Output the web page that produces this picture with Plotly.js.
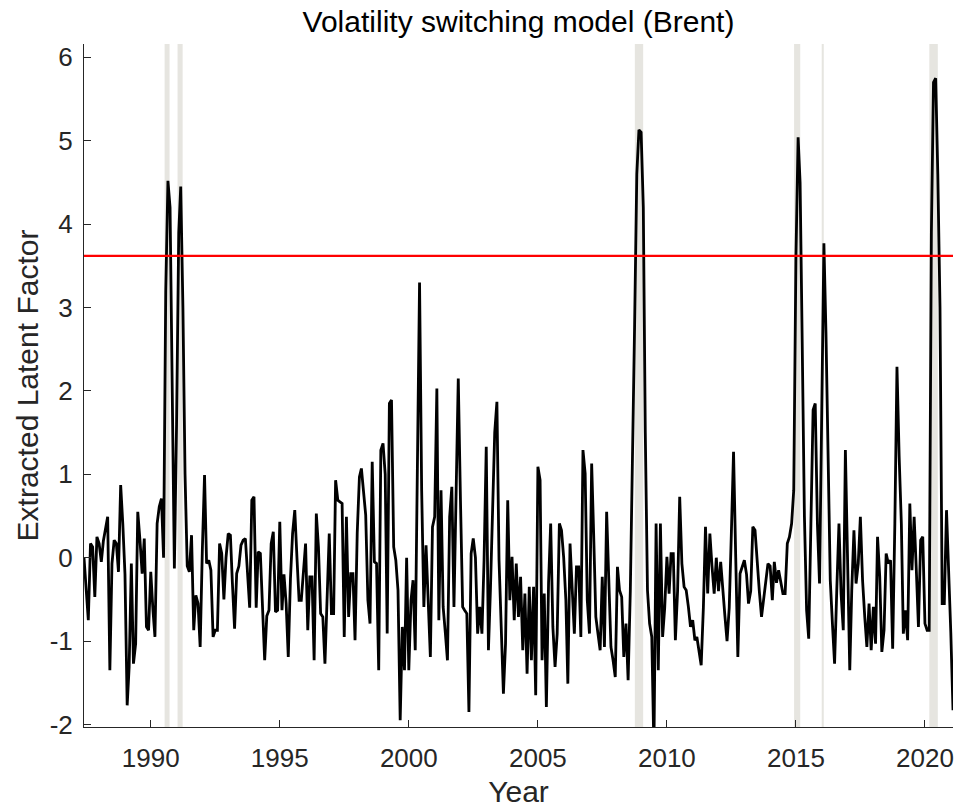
<!DOCTYPE html>
<html>
<head>
<meta charset="utf-8">
<script src="https://cdn.plot.ly/plotly-3.0.1.min.js"></script>
<style>
  html, body { margin: 0; padding: 0; background: #ffffff; }
  #chart { width: 958px; height: 808px; }
</style>
</head>
<body>
<div id="chart"></div>
<script>
// ---------------- data ----------------
const startYear = 1987;
const startMonth = 6; // first observation: June 1987, monthly thereafter

const latentFactor = [
  0.00, -0.40, -0.75, 0.17, 0.13, -0.47, 0.25, 0.17, -0.05, 0.20,
  0.37, 0.49, -1.35, -0.07, 0.21, 0.17, -0.17, 0.87, 0.41, -0.20,
  -1.77, -1.31, -0.07, -1.27, -1.03, 0.55, 0.21, -0.19, 0.23, -0.83,
  -0.87, -0.17, -0.63, -0.95, 0.41, 0.61, 0.71, 0.00, 3.20, 4.52,
  4.20, 1.80, -0.13, 1.60, 3.90, 4.45, 3.00, 1.00, -0.10, -0.17,
  0.27, -0.87, -0.45, -0.55, -1.07, 0.10, 0.99, -0.07, -0.03, -0.15,
  -0.95, -0.87, -0.87, 0.17, 0.05, -0.50, 0.00, 0.29, 0.27, -0.30,
  -0.85, -0.19, -0.10, 0.15, 0.21, 0.23, -0.19, -0.60, 0.69, 0.73,
  -0.60, 0.07, 0.05, -0.50, -1.23, -0.70, -0.63, 0.17, 0.31, -0.65,
  -0.63, 0.43, -0.63, -0.20, -0.55, -1.19, -0.25, 0.29, 0.57, 0.00,
  -0.51, -0.51, -0.19, 0.17, -0.87, -0.23, -0.23, -1.23, 0.53, 0.13,
  -0.67, -0.71, -1.27, -0.40, 0.29, -0.67, -0.67, 0.93, 0.69, 0.67,
  0.65, -0.95, 0.49, -0.71, -0.19, -0.19, -0.99, 0.30, 0.97, 1.07,
  0.81, 0.51, -0.51, -0.79, 1.15, -0.05, -0.07, -1.35, 1.29, 1.37,
  1.00, -0.91, 1.85, 1.89, 0.13, -0.03, -0.39, -1.95, -0.83, -1.35,
  0.00, -1.35, -0.51, -0.27, -1.11, 0.90, 3.30, 0.80, -0.59, 0.15,
  -0.63, -1.19, 0.37, 0.49, 2.03, -0.75, 0.81, -0.59, -0.90, -1.23,
  0.49, 0.85, -0.59, 0.90, 2.15, 0.69, -0.59, -0.63, -0.67, -1.85,
  0.05, 0.23, 0.00, -0.91, -0.59, -0.91, -0.03, 1.33, -1.11, -0.39,
  0.53, 1.50, 1.87, -0.03, -0.83, -1.63, -1.03, 0.69, -0.51, 0.01,
  -0.75, -0.07, -0.71, -0.23, -1.11, -0.43, -1.39, -0.35, -1.23, -0.35,
  -1.65, 1.09, 0.93, -1.23, -0.43, -1.79, -0.30, 0.41, -0.83, -1.31,
  -0.91, 0.41, 0.33, 0.00, -0.51, -1.51, 0.17, -0.39, -0.91, -0.11,
  -0.11, -0.95, 1.29, 1.01, -0.51, -0.91, 1.13, 0.29, -0.71, -0.91,
  -1.11, -0.23, -1.07, 0.55, -0.19, -1.07, -1.23, -1.43, -0.11, -0.39,
  -0.47, -1.19, -0.79, -1.47, -0.40, 1.00, 2.80, 4.60, 5.13, 5.10,
  4.20, 1.50, -0.39, -0.79, -0.95, -2.30, 0.41, -1.35, 0.41, -0.95,
  -0.60, 0.01, -0.43, 0.05, 0.05, -0.99, -0.40, 0.73, -0.07, -0.35,
  -0.39, -0.59, -0.83, -0.75, -0.99, -0.95, -1.15, -1.29, -0.60, 0.37,
  -0.43, 0.29, -0.10, -0.43, 0.00, -0.40, -0.05, -0.40, -0.70, -1.00,
  -0.60, 0.29, 1.27, 0.00, -1.19, -0.19, -0.10, -0.03, -0.20, -0.55,
  -0.40, 0.37, 0.33, -0.10, -0.40, -0.71, -0.50, -0.23, -0.07, -0.10,
  -0.51, -0.05, -0.30, -0.15, -0.30, -0.43, -0.43, 0.17, 0.25, 0.41,
  0.81, 3.60, 5.04, 4.50, 2.50, 0.50, -0.63, -0.97, 0.41, 1.77,
  1.85, 0.41, -0.31, 1.80, 3.77, 2.70, 1.00, -0.27, -0.80, -1.27,
  -0.39, 0.41, -0.43, -0.87, 1.29, -0.20, -1.35, -0.39, 0.33, -0.31,
  -0.07, 0.49, -0.27, -0.71, -1.07, -0.55, -1.11, -0.59, -1.03, 0.25,
  -0.23, -1.13, -0.87, 0.05, -0.07, -0.03, -1.09, 0.41, 2.29, 1.21,
  0.41, -0.91, -0.63, -0.99, 0.65, -0.15, 0.49, -0.15, -0.83, 0.21,
  0.25, -0.79, -0.87, -0.87, 3.90, 5.70, 5.75, 4.60, 3.00, -0.55,
  -0.55, 0.57, -0.07, -0.90, -1.83
];

const threshold = [3.62];

// high-volatility regime periods (shaded)
const bandStart = ['1990-07-16', '1991-01-15', '2008-10-04', '2014-12-06', '2016-01-01', '2020-03-03'];
const bandEnd   = ['1990-09-24', '1991-03-28', '2009-01-30', '2015-03-03', '2016-01-30', '2020-07-01'];

const xTickYears = [1990, 1995, 2000, 2005, 2010, 2015, 2020];
const yTicks = [-2, -1, 0, 1, 2, 3, 4, 5, 6];

// ---------------- build ----------------
function pad(n) { return (n < 10 ? '0' : '') + n; }
const dates = latentFactor.map((v, i) => {
  const k = startMonth - 1 + i;
  return (startYear + Math.floor(k / 12)) + '-' + pad(k % 12 + 1) + '-01';
});

const FONT = '"Liberation Sans", Arial, Helvetica, sans-serif';
const TXT = '#262626';

const traces = [
  {
    x: dates, y: latentFactor, type: 'scatter', mode: 'lines',
    line: { color: '#000000', width: 2.8 },
    hoverinfo: 'skip', showlegend: false
  },
  {
    x: [dates[0], dates[dates.length - 1]], y: [threshold[0], threshold[0]],
    type: 'scatter', mode: 'lines',
    line: { color: '#ff0000', width: 2.3 },
    hoverinfo: 'skip', showlegend: false
  }
];

const shapes = bandStart.map((s, i) => ({
  type: 'rect', xref: 'x', yref: 'paper',
  x0: s, x1: bandEnd[i], y0: 0, y1: 1,
  fillcolor: '#e6e5e0', line: { width: 0 }, layer: 'below'
}));

const layout = {
  width: 958, height: 808,
  margin: { l: 84, r: 5, t: 44, b: 81, pad: 0 },
  paper_bgcolor: '#ffffff', plot_bgcolor: '#ffffff',
  showlegend: false,
  font: { family: FONT, color: TXT, size: 26 },
  title: {
    text: 'Volatility switching model (Brent)',
    font: { family: FONT, size: 30, color: '#000000' },
    x: 0.5, xref: 'paper', xanchor: 'center',
    y: 0.973, yref: 'container', yanchor: 'middle'
  },
  xaxis: {
    type: 'date',
    range: [dates[0], dates[dates.length - 1]],
    tickvals: xTickYears.map(y => y + '-01-01'),
    ticktext: xTickYears.map(String),
    ticks: 'inside', ticklen: 7, tickwidth: 1, tickcolor: TXT,
    showline: true, linecolor: TXT, linewidth: 1,
    showgrid: false, zeroline: false,
    tickfont: { family: FONT, size: 26, color: TXT },
    ticklabelstandoff: 8,
    title: { text: 'Year', font: { family: FONT, size: 30, color: TXT }, standoff: 8 }
  },
  yaxis: {
    range: [-2.03, 6.16],
    tickvals: yTicks,
    ticktext: yTicks.map(String),
    ticks: 'inside', ticklen: 7, tickwidth: 1, tickcolor: TXT,
    showline: true, linecolor: TXT, linewidth: 1,
    showgrid: false, zeroline: false,
    tickfont: { family: FONT, size: 26, color: TXT },
    ticklabelstandoff: 5,
    title: { text: 'Extracted Latent Factor', font: { family: FONT, size: 30, color: TXT }, standoff: 2 }
  },
  shapes: shapes
};

Plotly.newPlot('chart', traces, layout, { displayModeBar: false, staticPlot: true });
</script>
</body>
</html>
